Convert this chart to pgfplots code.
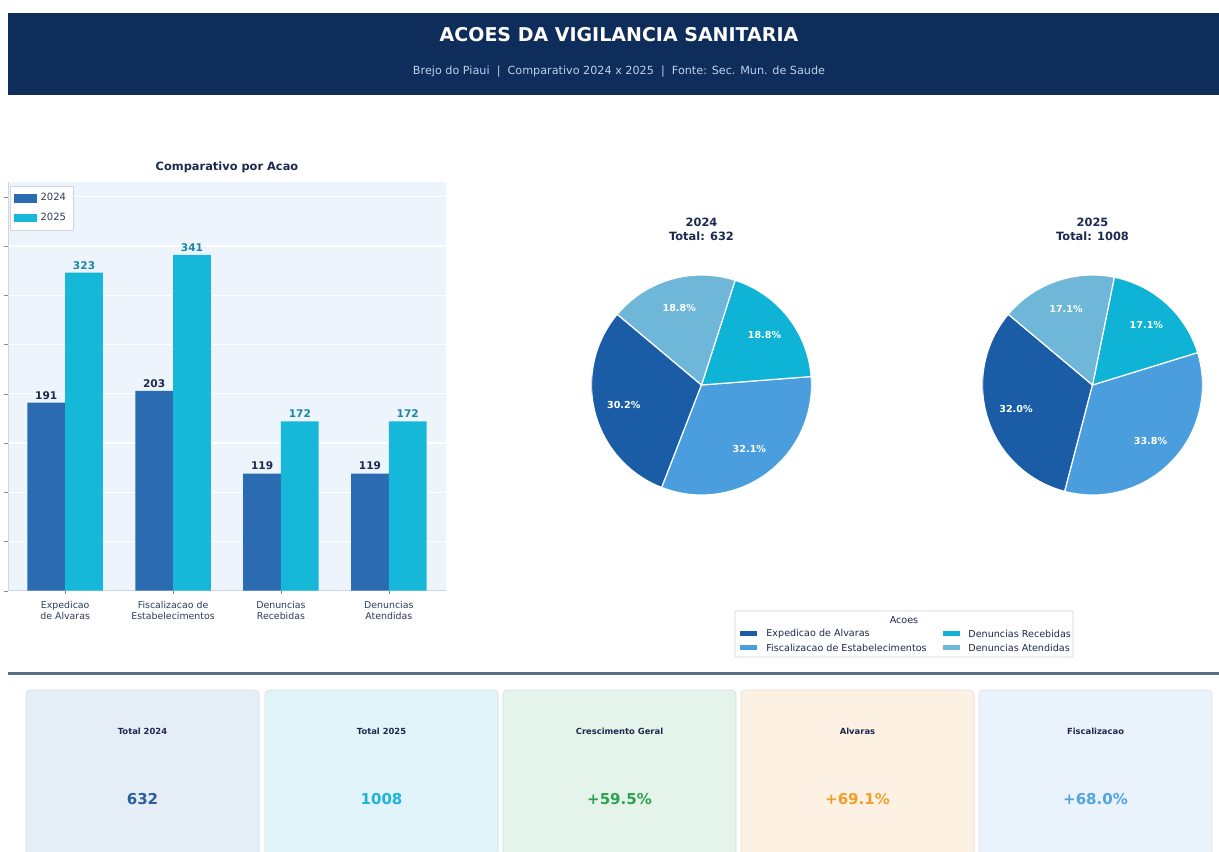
\documentclass[border=0pt]{standalone}
\usepackage{fontspec}
\setmainfont{DejaVu Sans}
\usepackage{pgfplots}
\pgfplotsset{compat=1.18}
\definecolor{navy}{HTML}{0E2D5B}
\definecolor{subt}{HTML}{BFD0E8}
\definecolor{dark}{HTML}{1B2A4E}
\definecolor{ctf}{HTML}{2B6BB2}
\definecolor{ctv}{HTML}{16B8DA}
\definecolor{labtv}{HTML}{1C86A8}
\definecolor{axbg}{HTML}{EEF4FC}
\definecolor{ticktext}{HTML}{2D3D5A}
\definecolor{spine}{HTML}{CDD6E2}
\definecolor{pcA}{HTML}{1A5DA6}
\definecolor{pcB}{HTML}{4A9EDE}
\definecolor{pcC}{HTML}{0FB3D6}
\definecolor{pcD}{HTML}{6FB7D8}
\definecolor{sepc}{HTML}{5B6E88}
\definecolor{kA}{HTML}{E5EDF6}
\definecolor{kB}{HTML}{E1F4FA}
\definecolor{kC}{HTML}{E5F4EA}
\definecolor{kD}{HTML}{FCF1E2}
\definecolor{kE}{HTML}{EAF3FB}
\definecolor{vA}{HTML}{2A5F9E}
\definecolor{vB}{HTML}{1FB3D5}
\definecolor{vC}{HTML}{2CA24F}
\definecolor{vD}{HTML}{F0A02A}
\definecolor{vE}{HTML}{52A3E0}
\begin{document}
\begin{tikzpicture}
% ---------- pie angles from the data ----------
\pgfmathsetmacro\TA{191+203+119+119}
\pgfmathsetmacro\aAo{140}
\pgfmathsetmacro\aAi{\aAo+360*(191/\TA)}
\pgfmathsetmacro\aAii{\aAi+360*(203/\TA)}
\pgfmathsetmacro\aAiii{\aAii+360*(119/\TA)}
\pgfmathsetmacro\aAiv{\aAiii+360*(119/\TA)}
\pgfmathsetmacro\TB{323+341+172+172}
\pgfmathsetmacro\aBo{140}
\pgfmathsetmacro\aBi{\aBo+360*(323/\TB)}
\pgfmathsetmacro\aBii{\aBi+360*(341/\TB)}
\pgfmathsetmacro\aBiii{\aBii+360*(172/\TB)}
\pgfmathsetmacro\aBiv{\aBiii+360*(172/\TB)}
\def\pd{0.73}
\begin{scope}[x=0.5pt,y=0.5pt]
\fill[white] (0,0) rectangle (1219,851);
% header
\fill[navy] (8,756) rectangle (1219,838);
\node[text=white,font=\bfseries\fontsize{9.5}{11}\selectfont] at (619,816) {ACOES DA VIGILANCIA SANITARIA};
\node[text=subt,font=\fontsize{5.6}{7}\selectfont] at (619,779) {Brejo do Piaui \ | \ Comparativo 2024 x 2025 \ | \ Fonte: Sec. Mun. de Saude};
% bar title
\node[text=dark,font=\bfseries\fontsize{5.7}{7}\selectfont] at (227,684) {Comparativo por Acao};
% pie titles
\node[text=dark,font=\bfseries\fontsize{5.7}{7}\selectfont,align=center] at (701.5,622) {2024\\Total: 632};
\node[text=dark,font=\bfseries\fontsize{5.7}{7}\selectfont,align=center] at (1092.5,622) {2025\\Total: 1008};
% pie legend
\draw[draw=spine,fill=white,rounded corners=1pt] (735,194) rectangle (1073,240);
\node[text=dark,font=\fontsize{4.8}{5.5}\selectfont] at (904,231) {Acoes};
\fill[pcA] (740,214.5) rectangle (757,219.5);
\fill[pcB] (740,200.5) rectangle (757,205.5);
\fill[pcC] (943,214.5) rectangle (960,219.5);
\fill[pcD] (943,200.5) rectangle (960,205.5);
\begin{scope}[every node/.style={anchor=west,inner sep=0pt,text=dark,font=\fontsize{4.8}{5.5}\selectfont}]
\node at (766,217) {Expedicao de Alvaras};
\node at (766,203) {Fiscalizacao de Estabelecimentos};
\node at (968,217) {Denuncias Recebidas};
\node at (968,203) {Denuncias Atendidas};
\end{scope}
% separator
\draw[sepc,line width=1.5pt] (8,178) -- (1219,178);
% KPI cards
\foreach \x/\c/\t/\v/\vc in {26/kA/Total 2024/632/vA, 265/kB/Total 2025/1008/vB, 503/kC/Crescimento Geral/+59.5\%/vC, 741/kD/Alvaras/+69.1\%/vD, 979/kE/Fiscalizacao/+68.0\%/vE}{
  \draw[fill=\c,draw=\c!92!black,line width=0.3pt,rounded corners=2pt] (\x,-10) rectangle ++(233,171);
  \node[text=dark,font=\bfseries\fontsize{4.2}{5}\selectfont] at (\x+116.5,120) {\t};
  \node[text=\vc,font=\bfseries\fontsize{7.5}{9}\selectfont] at (\x+116.5,52) {\v};
}
\end{scope}
% ---------- bar chart ----------
\begin{axis}[
  at={(4pt,130.15pt)}, anchor=south west,
  scale only axis, width=219pt, height=204.35pt,
  xmin=-0.53, xmax=3.53, ymin=0, ymax=415,
  /pgf/number format/assume math mode=true,
  axis background/.style={fill=axbg},
  axis x line*=bottom, axis y line*=left,
  axis line style={draw=spine},
  ytick={0,50,...,400}, yticklabels={},
  ymajorgrids, grid style={white,line width=0.7pt},
  xtick={0,1,2,3},
  xticklabels={{Expedicao\\de Alvaras},{Fiscalizacao de\\Estabelecimentos},{Denuncias\\Recebidas},{Denuncias\\Atendidas}},
  xticklabel style={align=center,text=ticktext,font=\fontsize{4.7}{5.5}\selectfont},
  tick align=outside, major tick length=1.8pt, tick style={draw=ticktext!60},
  ybar, bar width=0.35,
  legend style={at={(0.005,0.99)},anchor=north west,draw=spine,fill=white,
    font=\fontsize{5}{6}\selectfont,text=ticktext,inner sep=1.5pt,row sep=0.5pt},
  legend image code/.code={\fill[#1] (0pt,-2.1pt) rectangle (11.5pt,2.1pt);},
  legend cell align=left,
]
\addplot[fill=ctf,draw=none,bar shift=-0.175,
  nodes near coords,
  every node near coord/.append style={text=dark,font=\bfseries\fontsize{5.3}{6}\selectfont,inner sep=1.5pt}]
  coordinates {(0,191) (1,203) (2,119) (3,119)};
\addplot[fill=ctv,draw=none,bar shift=0.175,
  nodes near coords,
  every node near coord/.append style={text=labtv,font=\bfseries\fontsize{5.3}{6}\selectfont,inner sep=1.5pt}]
  coordinates {(0,323) (1,341) (2,172) (3,172)};
\legend{2024,2025}
\end{axis}
% ---------- pie 2024 ----------
\begin{axis}[at={(350.75pt,233pt)}, anchor=center, scale only axis,
  width=110pt, height=110pt, xmin=-1, xmax=1, ymin=-1, ymax=1, hide axis]
\fill[pcA,draw=white,line width=0.6pt] (axis cs:0,0) -- (axis cs:{cos(\aAo)},{sin(\aAo)}) arc[start angle=\aAo,end angle=\aAi,radius=55pt] -- cycle;
\fill[pcB,draw=white,line width=0.6pt] (axis cs:0,0) -- (axis cs:{cos(\aAi)},{sin(\aAi)}) arc[start angle=\aAi,end angle=\aAii,radius=55pt] -- cycle;
\fill[pcC,draw=white,line width=0.6pt] (axis cs:0,0) -- (axis cs:{cos(\aAii)},{sin(\aAii)}) arc[start angle=\aAii,end angle=\aAiii,radius=55pt] -- cycle;
\fill[pcD,draw=white,line width=0.6pt] (axis cs:0,0) -- (axis cs:{cos(\aAiii)},{sin(\aAiii)}) arc[start angle=\aAiii,end angle=\aAiv,radius=55pt] -- cycle;
\begin{scope}[every node/.style={text=white,font=\bfseries\fontsize{4.8}{5.5}\selectfont}]
\node at (axis cs:{\pd*cos((\aAo+\aAi)/2)},{\pd*sin((\aAo+\aAi)/2)}) {30.2\%};
\node at (axis cs:{\pd*cos((\aAi+\aAii)/2)},{\pd*sin((\aAi+\aAii)/2)}) {32.1\%};
\node at (axis cs:{\pd*cos((\aAii+\aAiii)/2)},{\pd*sin((\aAii+\aAiii)/2)}) {18.8\%};
\node at (axis cs:{\pd*cos((\aAiii+\aAiv)/2)},{\pd*sin((\aAiii+\aAiv)/2)}) {18.8\%};
\end{scope}
\end{axis}
% ---------- pie 2025 ----------
\begin{axis}[at={(546.25pt,233pt)}, anchor=center, scale only axis,
  width=110pt, height=110pt, xmin=-1, xmax=1, ymin=-1, ymax=1, hide axis]
\fill[pcA,draw=white,line width=0.6pt] (axis cs:0,0) -- (axis cs:{cos(\aBo)},{sin(\aBo)}) arc[start angle=\aBo,end angle=\aBi,radius=55pt] -- cycle;
\fill[pcB,draw=white,line width=0.6pt] (axis cs:0,0) -- (axis cs:{cos(\aBi)},{sin(\aBi)}) arc[start angle=\aBi,end angle=\aBii,radius=55pt] -- cycle;
\fill[pcC,draw=white,line width=0.6pt] (axis cs:0,0) -- (axis cs:{cos(\aBii)},{sin(\aBii)}) arc[start angle=\aBii,end angle=\aBiii,radius=55pt] -- cycle;
\fill[pcD,draw=white,line width=0.6pt] (axis cs:0,0) -- (axis cs:{cos(\aBiii)},{sin(\aBiii)}) arc[start angle=\aBiii,end angle=\aBiv,radius=55pt] -- cycle;
\begin{scope}[every node/.style={text=white,font=\bfseries\fontsize{4.8}{5.5}\selectfont}]
\node at (axis cs:{\pd*cos((\aBo+\aBi)/2)},{\pd*sin((\aBo+\aBi)/2)}) {32.0\%};
\node at (axis cs:{\pd*cos((\aBi+\aBii)/2)},{\pd*sin((\aBi+\aBii)/2)}) {33.8\%};
\node at (axis cs:{\pd*cos((\aBii+\aBiii)/2)},{\pd*sin((\aBii+\aBiii)/2)}) {17.1\%};
\node at (axis cs:{\pd*cos((\aBiii+\aBiv)/2)},{\pd*sin((\aBiii+\aBiv)/2)}) {17.1\%};
\end{scope}
\end{axis}
\pgfresetboundingbox
\useasboundingbox (0,0) rectangle (609.5pt,425.5pt);
\end{tikzpicture}
\end{document}
